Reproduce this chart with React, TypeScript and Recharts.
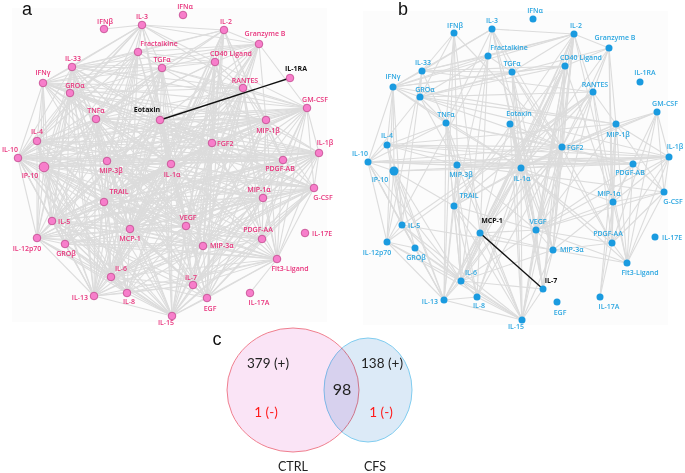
import React from 'react';
import { ScatterChart, Scatter, XAxis, YAxis, ReferenceLine, ReferenceArea } from 'recharts';

// ---- data ----
const cytokines = [
  'IFNα', 'IFNβ', 'IL-3', 'IL-2', 'Granzyme B', 'Fractalkine', 'CD40 Ligand', 'TGFα', 'IL-33', 'IFNγ',
  'GROα', 'RANTES', 'IL-1RA', 'GM-CSF', 'TNFα', 'Eotaxin', 'MIP-1β', 'IL-4', 'FGF2', 'IL-1β',
  'IL-10', 'IP-10', 'MIP-3β', 'IL-1α', 'PDGF-AB', 'G-CSF', 'MIP-1α', 'TRAIL', 'IL-5', 'VEGF',
  'MCP-1', 'PDGF-AA', 'IL-17E', 'IL-12p70', 'GROβ', 'MIP-3α', 'Flt3-Ligand', 'IL-6', 'IL-7', 'IL-13',
  'IL-8', 'EGF', 'IL-17A', 'IL-15',
];

// node layout of the network (same in both panels)
const nodeXY: Record<string, [number, number]> = {
  'IFNα': [183, 15], 'IFNβ': [104, 29], 'IL-3': [142, 25], 'IL-2': [224, 30], 'Granzyme B': [259, 44],
  'Fractalkine': [138, 52], 'CD40 Ligand': [215, 62], 'TGFα': [162, 68], 'IL-33': [72, 67], 'IFNγ': [43, 83],
  'GROα': [70, 93], 'RANTES': [243, 88], 'IL-1RA': [290, 78], 'GM-CSF': [307, 108], 'TNFα': [96, 119],
  'Eotaxin': [160, 120], 'MIP-1β': [266, 120], 'IL-4': [37, 141], 'FGF2': [212, 143], 'IL-1β': [319, 153],
  'IL-10': [18, 158], 'IP-10': [44, 167], 'MIP-3β': [107, 161], 'IL-1α': [171, 164], 'PDGF-AB': [283, 160],
  'G-CSF': [314, 188], 'MIP-1α': [263, 198], 'TRAIL': [104, 202], 'IL-5': [52, 221], 'VEGF': [186, 226],
  'MCP-1': [130, 229], 'PDGF-AA': [262, 239], 'IL-17E': [305, 233], 'IL-12p70': [37, 238], 'GROβ': [65, 244],
  'MIP-3α': [203, 246], 'Flt3-Ligand': [277, 259], 'IL-6': [111, 277], 'IL-7': [193, 285], 'IL-13': [94, 296],
  'IL-8': [127, 293], 'EGF': [207, 298], 'IL-17A': [250, 293], 'IL-15': [172, 316],
};

// correlations in controls
const ctrlEdges: Record<string, string[]> = {
  'IFNβ': ['IL-3'],
  'IL-3': ['IL-2', 'IL-33', 'IFNγ', 'Fractalkine', 'TGFα', 'TNFα', 'GROα', 'Eotaxin', 'IL-1α', 'MIP-3β', 'VEGF', 'RANTES', 'Granzyme B', 'CD40 Ligand', 'IL-10', 'IL-4'],
  'IL-2': ['Granzyme B', 'CD40 Ligand', 'TGFα', 'IL-33', 'Fractalkine', 'RANTES', 'FGF2', 'IL-1α', 'VEGF', 'MIP-3α', 'MIP-1β', 'PDGF-AB', 'IL-7', 'EGF', 'TNFα', 'MCP-1', 'IL-6'],
  'Granzyme B': ['CD40 Ligand', 'TGFα', 'IL-33', 'IFNγ', 'RANTES', 'GM-CSF', 'MIP-1β', 'FGF2', 'IL-1α', 'VEGF', 'TRAIL', 'MCP-1', 'IL-6', 'MIP-3α', 'Fractalkine', 'Eotaxin'],
  'Fractalkine': ['IL-33', 'IFNγ', 'TGFα', 'GROα', 'TNFα', 'MIP-3β', 'IL-1α', 'TRAIL', 'IL-5', 'MCP-1', 'IL-6', 'IL-13', 'VEGF', 'IL-10', 'IP-10', 'CD40 Ligand'],
  'CD40 Ligand': ['TGFα', 'IL-33', 'RANTES', 'FGF2', 'IL-1α', 'VEGF', 'MIP-3α', 'IL-7', 'EGF', 'MIP-1α', 'PDGF-AA', 'IL-15', 'IL-6', 'MCP-1', 'IL-8', 'GM-CSF', 'IL-10', 'TNFα'],
  'TGFα': ['IL-33', 'IFNγ', 'GROα', 'TNFα', 'Eotaxin', 'RANTES', 'GM-CSF', 'IL-1α', 'MIP-3β', 'VEGF', 'MCP-1', 'TRAIL', 'IL-6', 'IL-15', 'IL-13', 'MIP-3α', 'IL-1β', 'IL-10', 'IP-10', 'IL-5'],
  'IL-33': ['IFNγ', 'GROα', 'TNFα', 'Eotaxin', 'RANTES', 'GM-CSF', 'IL-1α', 'MIP-3β', 'TRAIL', 'IL-5', 'IL-10', 'IP-10', 'IL-12p70', 'IL-13', 'IL-6', 'MCP-1', 'VEGF', 'FGF2'],
  'IFNγ': ['GROα', 'TNFα', 'IL-4', 'IL-10', 'IP-10', 'IL-5', 'IL-12p70', 'Eotaxin', 'RANTES', 'GM-CSF', 'MIP-1β', 'FGF2', 'IL-1α', 'MIP-3β', 'VEGF', 'MCP-1', 'IL-1β', 'PDGF-AB', 'G-CSF'],
  'GROα': ['TNFα', 'Eotaxin', 'IL-4', 'IL-10', 'IP-10', 'IL-5', 'MIP-3β', 'IL-1α', 'FGF2', 'RANTES', 'TRAIL', 'GROβ', 'IL-12p70', 'IL-13', 'MIP-1β', 'VEGF'],
  'RANTES': ['Eotaxin', 'GM-CSF', 'MIP-1β', 'FGF2', 'IL-1α', 'PDGF-AB', 'MIP-1α', 'VEGF', 'MIP-3α', 'PDGF-AA', 'Flt3-Ligand', 'IL-7', 'EGF', 'IL-15', 'TNFα', 'MIP-3β', 'TRAIL', 'MCP-1'],
  'GM-CSF': ['MIP-1β', 'FGF2', 'IL-1β', 'PDGF-AB', 'G-CSF', 'MIP-1α', 'IL-1α', 'Eotaxin', 'TNFα', 'MIP-3β', 'IL-10', 'IL-4', 'VEGF', 'PDGF-AA', 'MIP-3α', 'TRAIL', 'Flt3-Ligand', 'IL-5', 'MCP-1', 'IP-10'],
  'TNFα': ['Eotaxin', 'IL-4', 'IL-10', 'IP-10', 'MIP-3β', 'IL-1α', 'FGF2', 'MIP-1β', 'PDGF-AB', 'TRAIL', 'IL-5', 'MCP-1', 'VEGF', 'IL-12p70', 'GROβ', 'IL-6', 'IL-13', 'IL-8', 'IL-15', 'MIP-3α', 'IL-7', 'EGF', 'IL-1β', 'G-CSF'],
  'Eotaxin': ['FGF2', 'MIP-1β', 'IL-1α', 'MIP-3β', 'IL-4', 'IL-10', 'IP-10', 'TRAIL', 'VEGF', 'MCP-1', 'IL-5', 'PDGF-AB', 'MIP-1α', 'IL-6', 'IL-15', 'IL-13', 'MIP-3α', 'IL-7', 'EGF', 'IL-1β', 'G-CSF', 'IL-12p70', 'GROβ'],
  'MIP-1β': ['FGF2', 'IL-1β', 'PDGF-AB', 'G-CSF', 'MIP-1α', 'IL-1α', 'MIP-3β', 'IL-4', 'IL-10', 'IP-10', 'VEGF', 'PDGF-AA', 'MIP-3α', 'Flt3-Ligand', 'IL-7', 'EGF', 'IL-15', 'MCP-1', 'TRAIL', 'IL-5'],
  'IL-4': ['IL-10', 'IP-10', 'MIP-3β', 'IL-1α', 'FGF2', 'IL-1β', 'PDGF-AB', 'TRAIL', 'IL-5', 'IL-12p70', 'GROβ', 'MCP-1', 'VEGF', 'IL-6', 'IL-13', 'MIP-1α', 'G-CSF'],
  'FGF2': ['IL-1β', 'PDGF-AB', 'G-CSF', 'MIP-1α', 'IL-1α', 'MIP-3β', 'IL-10', 'IP-10', 'VEGF', 'PDGF-AA', 'MIP-3α', 'Flt3-Ligand', 'IL-7', 'EGF', 'IL-15', 'MCP-1', 'TRAIL', 'IL-5', 'IL-6', 'IL-8', 'IL-13', 'GROβ', 'IL-12p70'],
  'IL-1β': ['PDGF-AB', 'G-CSF', 'MIP-1α', 'IL-1α', 'MIP-3β', 'IL-10', 'IP-10', 'VEGF', 'PDGF-AA', 'MIP-3α', 'Flt3-Ligand', 'TRAIL', 'IL-5', 'MCP-1', 'IL-12p70', 'IL-6', 'IL-7'],
  'IL-10': ['IP-10', 'MIP-3β', 'IL-1α', 'PDGF-AB', 'G-CSF', 'TRAIL', 'IL-5', 'IL-12p70', 'GROβ', 'MCP-1', 'IL-6', 'IL-13', 'IL-8', 'VEGF', 'MIP-1α', 'IL-15'],
  'IP-10': ['MIP-3β', 'IL-1α', 'PDGF-AB', 'G-CSF', 'TRAIL', 'IL-5', 'IL-12p70', 'GROβ', 'MCP-1', 'IL-6', 'IL-13', 'IL-8', 'VEGF', 'MIP-1α', 'MIP-3α', 'PDGF-AA', 'IL-15'],
  'MIP-3β': ['IL-1α', 'PDGF-AB', 'G-CSF', 'TRAIL', 'IL-5', 'IL-12p70', 'GROβ', 'MCP-1', 'IL-6', 'IL-13', 'IL-8', 'VEGF', 'MIP-1α', 'MIP-3α', 'PDGF-AA', 'Flt3-Ligand', 'IL-7', 'EGF', 'IL-15'],
  'IL-1α': ['PDGF-AB', 'G-CSF', 'MIP-1α', 'TRAIL', 'IL-5', 'MCP-1', 'VEGF', 'PDGF-AA', 'MIP-3α', 'Flt3-Ligand', 'IL-6', 'IL-7', 'IL-13', 'IL-8', 'EGF', 'IL-15', 'IL-12p70', 'GROβ'],
  'PDGF-AB': ['G-CSF', 'MIP-1α', 'TRAIL', 'IL-5', 'MCP-1', 'VEGF', 'PDGF-AA', 'MIP-3α', 'Flt3-Ligand', 'IL-6', 'IL-7', 'EGF', 'IL-15', 'IL-12p70'],
  'G-CSF': ['MIP-1α', 'TRAIL', 'MCP-1', 'VEGF', 'PDGF-AA', 'MIP-3α', 'Flt3-Ligand', 'IL-6', 'IL-7', 'EGF', 'IL-15', 'IL-5', 'IL-12p70', 'IL-13'],
  'MIP-1α': ['TRAIL', 'MCP-1', 'VEGF', 'PDGF-AA', 'MIP-3α', 'Flt3-Ligand', 'IL-6', 'IL-7', 'EGF', 'IL-15', 'IL-5', 'GROβ'],
  'TRAIL': ['IL-5', 'MCP-1', 'VEGF', 'MIP-3α', 'Flt3-Ligand', 'IL-6', 'IL-7', 'IL-13', 'IL-8', 'EGF', 'IL-15', 'IL-12p70', 'GROβ', 'PDGF-AA'],
  'IL-5': ['IL-12p70', 'GROβ', 'MCP-1', 'VEGF', 'IL-6', 'IL-13', 'IL-8', 'MIP-3α', 'PDGF-AA', 'Flt3-Ligand', 'IL-15', 'EGF', 'IL-7'],
  'VEGF': ['MCP-1', 'PDGF-AA', 'MIP-3α', 'Flt3-Ligand', 'IL-6', 'IL-7', 'IL-13', 'IL-8', 'EGF', 'IL-15', 'IL-12p70', 'GROβ'],
  'MCP-1': ['MIP-3α', 'IL-6', 'IL-7', 'IL-13', 'IL-8', 'EGF', 'IL-15', 'IL-12p70', 'GROβ', 'PDGF-AA', 'Flt3-Ligand'],
  'PDGF-AA': ['MIP-3α', 'Flt3-Ligand', 'IL-7', 'EGF', 'IL-15', 'IL-6'],
  'IL-12p70': ['GROβ', 'IL-6', 'IL-13', 'IL-8', 'IL-15', 'MIP-3α', 'Flt3-Ligand'],
  'GROβ': ['IL-6', 'IL-13', 'IL-8', 'IL-15', 'MIP-3α', 'Flt3-Ligand'],
  'MIP-3α': ['Flt3-Ligand', 'IL-6', 'IL-7', 'IL-13', 'IL-8', 'EGF', 'IL-15'],
  'Flt3-Ligand': ['IL-7', 'EGF', 'IL-15', 'IL-6', 'IL-17A', 'IL-13', 'IL-8'],
  'IL-6': ['IL-7', 'IL-13', 'IL-8', 'EGF', 'IL-15'],
  'IL-7': ['EGF', 'IL-15', 'IL-13', 'IL-8'],
  'IL-13': ['IL-8', 'IL-15'],
  'IL-8': ['IL-15'],
  'EGF': ['IL-15'],
};

// correlations in CFS
const cfsEdges: Record<string, string[]> = {
  'IFNβ': ['GROα', 'IL-33', 'TNFα', 'MCP-1', 'FGF2', 'IL-6', 'IL-13'],
  'IL-3': ['IL-2', 'IFNγ', 'IL-33', 'TGFα', 'Fractalkine', 'TNFα', 'FGF2', 'VEGF', 'MIP-3α', 'IL-1α'],
  'IL-2': ['Fractalkine', 'CD40 Ligand', 'Granzyme B', 'TGFα', 'IL-33', 'IFNγ', 'FGF2', 'IL-1α', 'VEGF', 'MIP-3α', 'TRAIL', 'IL-6', 'MCP-1', 'RANTES', 'IL-15', 'MIP-1α', 'IL-7'],
  'Granzyme B': ['CD40 Ligand', 'RANTES', 'MIP-1β', 'FGF2', 'PDGF-AA', 'MIP-1α', 'IL-1α', 'GROα'],
  'Fractalkine': ['IL-33', 'IFNγ', 'TGFα', 'GROα', 'MCP-1', 'IL-6', 'TRAIL', 'IL-12p70'],
  'CD40 Ligand': ['IFNγ', 'IL-33', 'TGFα', 'GROα', 'FGF2', 'IL-1α', 'VEGF', 'MIP-3α', 'IL-7', 'MCP-1', 'IL-6', 'IL-15', 'TRAIL', 'IL-8', 'MIP-1α', 'IL-13'],
  'TGFα': ['IFNγ', 'IL-33', 'GROα', 'FGF2', 'IL-1α', 'VEGF', 'MIP-3α', 'IL-7', 'PDGF-AA', 'IL-15'],
  'IL-33': ['IFNγ', 'GROα', 'TNFα', 'RANTES', 'IL-12p70', 'IL-5'],
  'IFNγ': ['GROα', 'IL-10', 'IL-4', 'IL-5', 'IL-12p70', 'IP-10', 'TNFα', 'MIP-1β', 'IL-1α'],
  'GROα': ['RANTES', 'MIP-1β', 'TNFα', 'IL-10', 'IL-1β', 'MIP-3β', 'FGF2'],
  'RANTES': ['MIP-1β', 'FGF2', 'IL-1α', 'MIP-3α', 'PDGF-AA', 'Flt3-Ligand', 'IL-5', 'IL-12p70', 'TRAIL', 'VEGF'],
  'GM-CSF': ['MIP-1β', 'FGF2', 'IL-1α', 'PDGF-AA', 'Flt3-Ligand', 'IL-1β', 'MIP-1α', 'G-CSF'],
  'TNFα': ['IL-10', 'IL-4', 'MIP-3β', 'IL-13', 'IL-6', 'IL-8', 'TRAIL', 'IL-1α', 'FGF2', 'PDGF-AB', 'IL-15'],
  'Eotaxin': ['IL-1α', 'VEGF', 'MIP-3α', 'IL-15', 'MCP-1', 'IL-7', 'FGF2'],
  'MIP-1β': ['FGF2', 'PDGF-AA', 'Flt3-Ligand', 'MIP-1α', 'IL-1β', 'IL-1α', 'IL-4', 'VEGF', 'G-CSF', 'IL-17A'],
  'IL-4': ['IL-10', 'FGF2', 'IL-1β', 'MIP-3β', 'IL-1α', 'IL-5', 'IL-13', 'PDGF-AB'],
  'FGF2': ['IL-1α', 'VEGF', 'MIP-3α', 'PDGF-AA', 'IL-7', 'MCP-1', 'IL-6', 'IL-15', 'MIP-3β', 'IL-10', 'IL-1β', 'PDGF-AB', 'IL-8', 'TRAIL', 'IL-13'],
  'IL-1β': ['IL-10', 'IL-1α', 'PDGF-AB', 'G-CSF', 'MIP-1α', 'PDGF-AA', 'Flt3-Ligand', 'VEGF', 'MIP-3β', 'IP-10'],
  'IL-10': ['IP-10', 'PDGF-AB', 'MIP-3β', 'IL-1α', 'IL-5', 'IL-12p70', 'IL-13', 'GROβ', 'IL-6'],
  'IP-10': ['IL-5', 'IL-12p70', 'IL-13', 'GROβ', 'IL-6', 'TRAIL', 'IL-1α'],
  'MIP-3β': ['IL-1α', 'PDGF-AB', 'IL-13', 'IL-6', 'TRAIL', 'VEGF', 'IL-15', 'G-CSF'],
  'IL-1α': ['PDGF-AB', 'VEGF', 'MIP-3α', 'MCP-1', 'IL-6', 'IL-15', 'IL-7', 'TRAIL', 'MIP-1α', 'PDGF-AA', 'Flt3-Ligand', 'IL-13', 'IL-8'],
  'PDGF-AB': ['G-CSF', 'MIP-1α', 'VEGF', 'Flt3-Ligand'],
  'G-CSF': ['MIP-1α', 'PDGF-AA', 'Flt3-Ligand', 'VEGF'],
  'MIP-1α': ['PDGF-AA', 'Flt3-Ligand', 'MIP-3α', 'IL-17A', 'VEGF'],
  'TRAIL': ['IL-13', 'IL-6', 'IL-15', 'MCP-1', 'VEGF', 'IL-8'],
  'IL-5': ['IL-12p70', 'GROβ', 'IL-13', 'IL-6', 'IL-15', 'MIP-3α'],
  'VEGF': ['MIP-3α', 'IL-15', 'IL-7', 'IL-6', 'PDGF-AA', 'MCP-1', 'Flt3-Ligand'],
  'MCP-1': ['IL-6', 'IL-13', 'IL-8', 'IL-15', 'MIP-3α'],
  'PDGF-AA': ['Flt3-Ligand', 'IL-17A', 'MIP-3α'],
  'IL-12p70': ['IL-13', 'IL-6', 'IL-15', 'GROβ'],
  'GROβ': ['IL-13', 'IL-6', 'IL-15'],
  'MIP-3α': ['Flt3-Ligand', 'IL-6', 'IL-15', 'IL-7'],
  'IL-6': ['IL-13', 'IL-8', 'IL-15', 'IL-7'],
  'IL-13': ['IL-8', 'IL-15'],
  'IL-8': ['IL-15'],
  'IL-7': ['IL-15'],
};

// the one negative correlation of each group
const ctrlNegative: [string, string] = ['Eotaxin', 'IL-1RA'];
const cfsNegative: [string, string] = ['MCP-1', 'IL-7'];

const vennGroups = ['CTRL', 'CFS'];
const vennPositive = [379, 138];
const vennNegativeCount = [1, 1];
const vennShared = 98;

// ---- layout / style ----
const W = 685;
const H = 473;
const PINK = '#f77ecb';
const PINK_EDGE = '#c2488d';
const PINK_TEXT = '#e8337c';
const BLUE = '#1a9be0';
const BLUE_TEXT = '#2ba6e0';
const EDGE = '#dcdcdc';
const FONT = '"Open Sans", "Liberation Sans", sans-serif';

type Anchor = 'start' | 'middle' | 'end';
const labelAt: Record<string, [number, number, Anchor]> = {
  'IFNα': [2, -6.5, 'middle'], 'IFNβ': [1, -5, 'middle'], 'IL-3': [0, -6.5, 'middle'], 'IL-2': [2, -6.5, 'middle'],
  'Granzyme B': [6, -8.5, 'middle'], 'Fractalkine': [21, -6.5, 'middle'], 'CD40 Ligand': [16, -6.5, 'middle'],
  'TGFα': [0, -6.5, 'middle'], 'IL-33': [1, -6.5, 'middle'], 'IFNγ': [0, -8.5, 'middle'], 'GROα': [5, -5.5, 'middle'],
  'RANTES': [2, -5.5, 'middle'], 'IL-1RA': [6, -7.5, 'middle'], 'GM-CSF': [8, -6.5, 'middle'], 'TNFα': [0, -6.5, 'middle'],
  'Eotaxin': [-13, -8.5, 'middle'], 'MIP-1β': [2, 12.5, 'middle'], 'IL-4': [0, -7.5, 'middle'], 'FGF2': [5, 2.5, 'start'],
  'IL-1β': [6, -8.5, 'middle'], 'IL-10': [-8, -6.5, 'middle'], 'IP-10': [-14, 10.5, 'middle'], 'MIP-3β': [4, 11.5, 'middle'],
  'IL-1α': [1, 12.5, 'middle'], 'PDGF-AB': [-3, 10.5, 'middle'], 'G-CSF': [9, 11.5, 'middle'], 'MIP-1α': [-4, -6.5, 'middle'],
  'TRAIL': [15, -8.5, 'middle'], 'IL-5': [6, 2.5, 'start'], 'VEGF': [2, -6.5, 'middle'], 'MCP-1': [0, 11.5, 'middle'],
  'PDGF-AA': [-4, -7.5, 'middle'], 'IL-17E': [7, 2.5, 'start'], 'IL-12p70': [-10, 12.5, 'middle'], 'GROβ': [1, 11.5, 'middle'],
  'MIP-3α': [7, 1.5, 'start'], 'Flt3-Ligand': [13, 11.5, 'middle'], 'IL-6': [10, -6.5, 'middle'], 'IL-7': [-2, -5.5, 'middle'],
  'IL-13': [-6, 3.5, 'end'], 'IL-8': [2, 10.5, 'middle'], 'EGF': [3, 12.5, 'middle'], 'IL-17A': [9, 11.5, 'middle'],
  'IL-15': [-6, 8.5, 'middle'],
};
const labelAtCfs: Record<string, [number, number, Anchor]> = {
  'MCP-1': [12, -10.5, 'middle'], 'IL-7': [8, -6.5, 'middle'], 'Eotaxin': [9, -8.5, 'middle'], 'IL-1RA': [5, -7.5, 'middle'],
};

const panels = [
  { key: 'ctrl', dx: 0, dy: 0, edges: ctrlEdges, neg: ctrlNegative, fill: PINK, stroke: PINK_EDGE, ink: PINK_TEXT, r: 3.8, labels: {} as Record<string, [number, number, Anchor]> },
  { key: 'cfs', dx: 350, dy: 4, edges: cfsEdges, neg: cfsNegative, fill: BLUE, stroke: 'none', ink: BLUE_TEXT, r: 3.5, labels: labelAtCfs },
];

const buildEdges = (adj: Record<string, string[]>) => {
  const seen = new Set<string>();
  const out: [string, string][] = [];
  Object.entries(adj).forEach(([a, list]) => {
    list.forEach((b) => {
      const k = a < b ? `${a}|${b}` : `${b}|${a}`;
      if (!seen.has(k) && nodeXY[a] && nodeXY[b]) {
        seen.add(k);
        out.push([a, b]);
      }
    });
  });
  return out;
};

const NodeShape = (props: any) => {
  const { cx, cy, payload } = props;
  if (cx == null || cy == null) return null;
  const [lx, ly, anchor] = payload.lab;
  return (
    <g>
      <circle cx={cx} cy={cy} r={payload.r} fill={payload.fill} stroke={payload.stroke} strokeWidth={0.8} />
      <text x={cx + lx} y={cy + ly} textAnchor={anchor} fontSize={7} fontFamily={FONT}
        fontWeight={payload.hot ? 700 : 600} fill={payload.hot ? '#111' : payload.ink}>
        {payload.name}
      </text>
    </g>
  );
};

const EllipseShape = (props: any) => {
  const { cx, cy, payload } = props;
  if (cx == null || cy == null) return null;
  return (
    <ellipse cx={cx} cy={cy} rx={payload.rx} ry={payload.ry} fill={payload.fill} stroke={payload.stroke}
      strokeWidth={1} style={{ mixBlendMode: 'multiply' }} />
  );
};

const TextShape = (props: any) => {
  const { cx, cy, payload } = props;
  if (cx == null || cy == null) return null;
  return (
    <text x={cx} y={cy} textAnchor="middle" fontSize={payload.size} fontFamily={payload.font || '"Lato", sans-serif'}
      fill={payload.color}>
      {payload.text}
    </text>
  );
};

const vennShapes = [
  { x: 293, y: 390, rx: 66, ry: 62, fill: '#fae4f6', stroke: '#ef7f8e' },
  { x: 368, y: 390, rx: 44, ry: 52, fill: '#dceaf7', stroke: '#80ccef' },
];

const annotations = [
  { x: 27, y: 15, text: 'a', size: 18, color: '#111', font: '"Liberation Sans", sans-serif' },
  { x: 403, y: 15, text: 'b', size: 18, color: '#111', font: '"Liberation Sans", sans-serif' },
  { x: 217, y: 345, text: 'c', size: 18, color: '#111', font: '"Liberation Sans", sans-serif' },
  { x: 268, y: 368, text: `${vennPositive[0]} (+)`, size: 13.5, color: '#222' },
  { x: 382, y: 368, text: `${vennPositive[1]} (+)`, size: 13.5, color: '#222' },
  { x: 342, y: 395, text: `${vennShared}`, size: 16, color: '#222' },
  { x: 266, y: 417, text: `${vennNegativeCount[0]} (-)`, size: 13.5, color: '#ff1a1a' },
  { x: 381, y: 417, text: `${vennNegativeCount[1]} (-)`, size: 13.5, color: '#ff1a1a' },
  { x: 293, y: 471, text: vennGroups[0], size: 12.5, color: '#222' },
  { x: 375, y: 471, text: vennGroups[1], size: 12.5, color: '#222' },
];

export default function App() {
  return (
    <div style={{ position: 'absolute', left: 0, top: 0, width: W, height: H, background: '#fff' }}>
      <ScatterChart width={W} height={H} margin={{ top: 0, right: 0, bottom: 0, left: 0 }}>
        <XAxis type="number" dataKey="x" domain={[0, W]} hide />
        <YAxis type="number" dataKey="y" domain={[0, H]} reversed hide />
        <ReferenceArea x1={12} x2={327} y1={8} y2={322} fill="#fcfcfc" fillOpacity={1} stroke="none" />
        <ReferenceArea x1={363} x2={668} y1={11} y2={325} fill="#fcfcfc" fillOpacity={1} stroke="none" />
        {panels.map((p) =>
          buildEdges(p.edges).map(([a, b]) => (
            <ReferenceLine key={`${p.key}-${a}-${b}`} ifOverflow="visible" stroke={EDGE} strokeWidth={1.1}
              segment={[{ x: nodeXY[a][0] + p.dx, y: nodeXY[a][1] + p.dy }, { x: nodeXY[b][0] + p.dx, y: nodeXY[b][1] + p.dy }]} />
          )),
        )}
        {panels.map((p) => (
          <ReferenceLine key={`${p.key}-neg`} ifOverflow="visible" stroke="#111" strokeWidth={1.4}
            segment={[{ x: nodeXY[p.neg[0]][0] + p.dx, y: nodeXY[p.neg[0]][1] + p.dy }, { x: nodeXY[p.neg[1]][0] + p.dx, y: nodeXY[p.neg[1]][1] + p.dy }]} />
        ))}
        {panels.map((p) => (
          <Scatter key={p.key} isAnimationActive={false} shape={NodeShape}
            data={cytokines.map((name) => ({
              name,
              x: nodeXY[name][0] + p.dx,
              y: nodeXY[name][1] + p.dy,
              r: name === 'IP-10' ? p.r + 1 : p.r,
              fill: p.fill,
              stroke: p.stroke,
              ink: p.ink,
              hot: p.neg.includes(name),
              lab: p.labels[name] || labelAt[name],
            }))} />
        ))}
        <Scatter isAnimationActive={false} shape={EllipseShape} data={vennShapes} />
        <Scatter isAnimationActive={false} shape={TextShape} data={annotations} />
      </ScatterChart>
    </div>
  );
}
